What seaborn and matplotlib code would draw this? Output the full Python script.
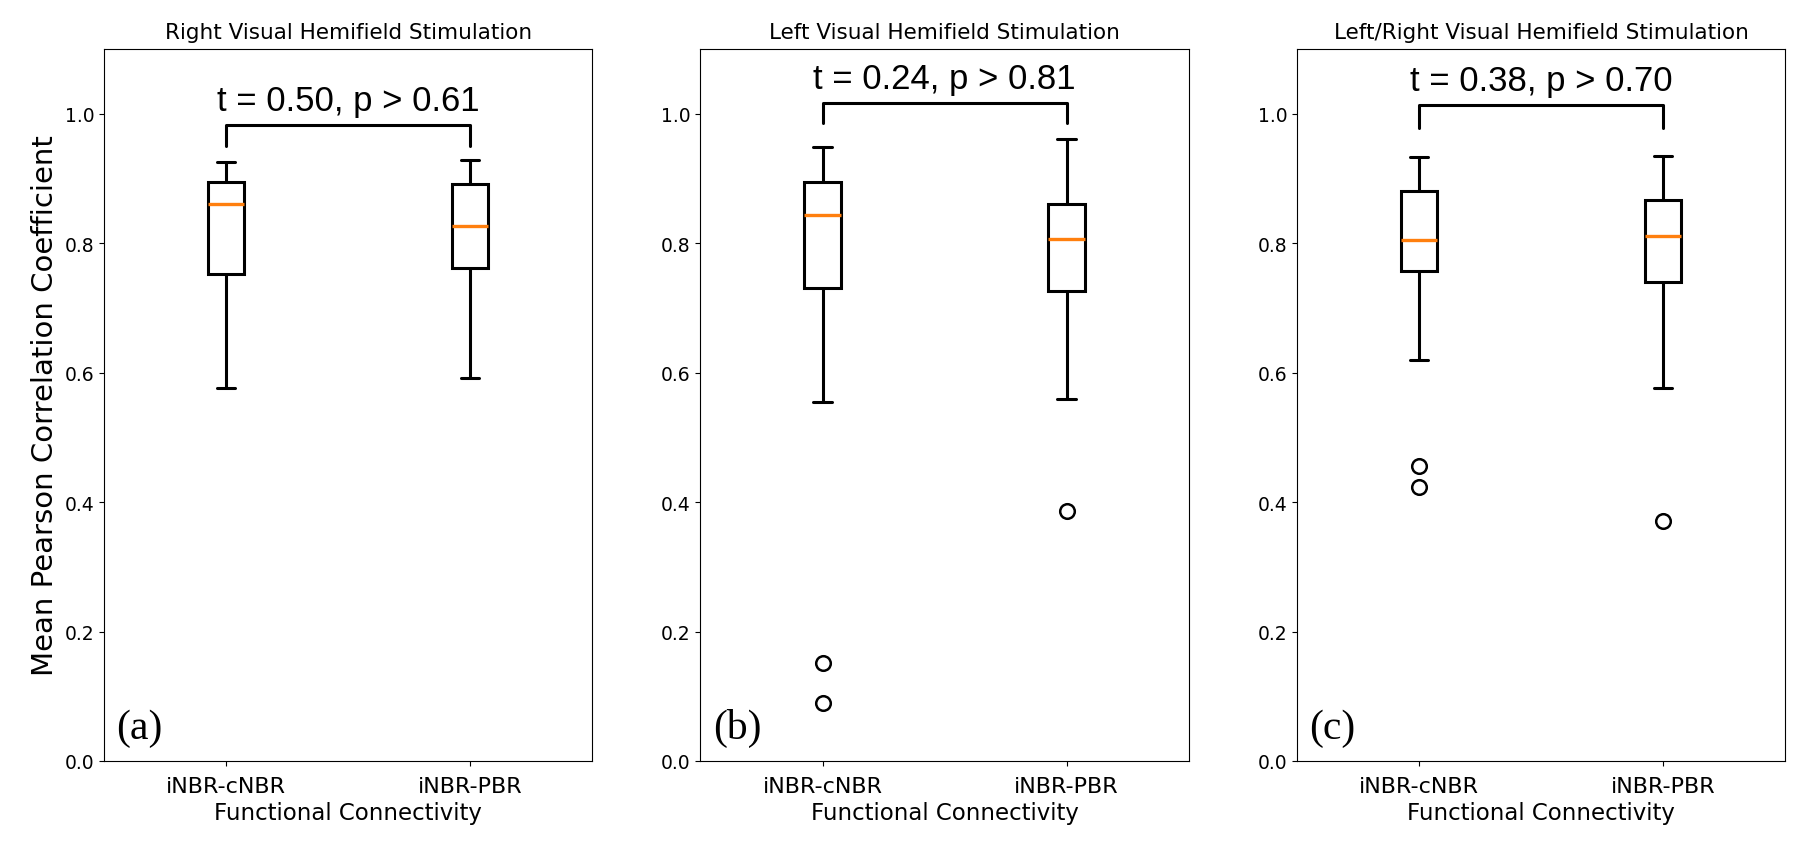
import numpy as np
import pandas as pd
import matplotlib
matplotlib.use("Agg")
import matplotlib.pyplot as plt
import seaborn as sns

# ---------------- data ----------------
categories = ["iNBR-cNBR", "iNBR-PBR"]
titles = ["Right Visual Hemifield Stimulation",
          "Left Visual Hemifield Stimulation",
          "Left/Right Visual Hemifield Stimulation"]
panel_labels = ["(a)", "(b)", "(c)"]
stat_texts = ["t = 0.50, p > 0.61", "t = 0.24, p > 0.81", "t = 0.38, p > 0.70"]

# five-number summaries: [lower whisker, Q1, median, Q3, upper whisker]
a_cnbr = [0.577, 0.752, 0.860, 0.894, 0.925]
a_pbr = [0.591, 0.762, 0.826, 0.891, 0.928]
b_cnbr = [0.554, 0.731, 0.844, 0.894, 0.949]
b_pbr = [0.559, 0.726, 0.807, 0.860, 0.961]
c_cnbr = [0.619, 0.757, 0.805, 0.881, 0.933]
c_pbr = [0.577, 0.740, 0.811, 0.867, 0.934]

# outliers
a_cnbr_out = []
a_pbr_out = []
b_cnbr_out = [0.152, 0.090]
b_pbr_out = [0.386]
c_cnbr_out = [0.455, 0.423]
c_pbr_out = [0.370]

# significance bracket: (bar height, leg end height, text baseline)
bracket_a = [0.983, 0.950, 1.006]
bracket_b = [1.017, 0.985, 1.040]
bracket_c = [1.014, 0.978, 1.037]

panels = [
    (a_cnbr, a_pbr, a_cnbr_out, a_pbr_out, bracket_a),
    (b_cnbr, b_pbr, b_cnbr_out, b_pbr_out, bracket_b),
    (c_cnbr, c_pbr, c_cnbr_out, c_pbr_out, bracket_c),
]

# ---------------- style ----------------
sns.set_style("ticks", rc={
    "axes.edgecolor": "black",
    "axes.linewidth": 1.6,
    "xtick.color": "black",
    "ytick.color": "black",
    "xtick.major.size": 6,
    "ytick.major.size": 6,
    "xtick.major.width": 1.4,
    "ytick.major.width": 1.4,
    "text.color": "black",
    "axes.labelcolor": "black",
})
plt.rcParams["font.family"] = ["DejaVu Sans"]

fig, axes = plt.subplots(1, 3, figsize=(18, 8.53), dpi=100)
fig.subplots_adjust(left=0.0578, right=0.9917, top=0.9414, bottom=0.1067, wspace=0.222)

for i, (ax, (g1, g2, o1, o2, br)) in enumerate(zip(axes, panels)):
    df = pd.DataFrame({
        "conn": [categories[0]] * len(g1) + [categories[1]] * len(g2),
        "r": g1 + g2,
    })
    sns.boxplot(data=df, x="conn", y="r", order=categories, ax=ax,
                width=0.15, whis=(0, 100), showfliers=False,
                color="white", linecolor="black", linewidth=2.2,
                medianprops={"color": "#ff7f0e", "linewidth": 2.4})
    dfo = pd.DataFrame({
        "conn": [categories[0]] * len(o1) + [categories[1]] * len(o2),
        "r": o1 + o2,
    })
    if len(dfo):
        sns.stripplot(data=dfo, x="conn", y="r", order=categories, ax=ax,
                      jitter=False, size=10.5, color="white",
                      edgecolor="black", linewidth=1.8)
    ax.set_ylim(0, 1.1)
    ax.set_xlim(-0.5, 1.5)
    ax.set_yticks([0.0, 0.2, 0.4, 0.6, 0.8, 1.0])
    ax.set_yticklabels(["0.0", "0.2", "0.4", "0.6", "0.8", "1.0"])
    ax.tick_params(axis="y", labelsize=13.5)
    ax.tick_params(axis="x", labelsize=16, pad=7)
    ax.set_title(titles[i], fontsize=15.5, pad=8)
    ax.set_xlabel("Functional Connectivity", fontsize=16.5, labelpad=4)
    if i == 0:
        ax.set_ylabel("Mean Pearson Correlation Coefficient", fontsize=21)
    else:
        ax.set_ylabel("")
    for s in ax.spines.values():
        s.set_visible(True)
    # significance bracket
    h, e, t = br
    ax.plot([0, 0, 1, 1], [e, h, h, e], color="black", lw=2.2,
            solid_joinstyle="round")
    ax.text(0.5, t, stat_texts[i], ha="center", va="baseline",
            fontsize=25, family=["Liberation Sans", "DejaVu Sans"])
    ax.text(0.025, 0.02, panel_labels[i], transform=ax.transAxes,
            ha="left", va="bottom", fontsize=30,
            family=["Liberation Serif", "DejaVu Serif"])

fig.savefig("out.png", dpi=100)
